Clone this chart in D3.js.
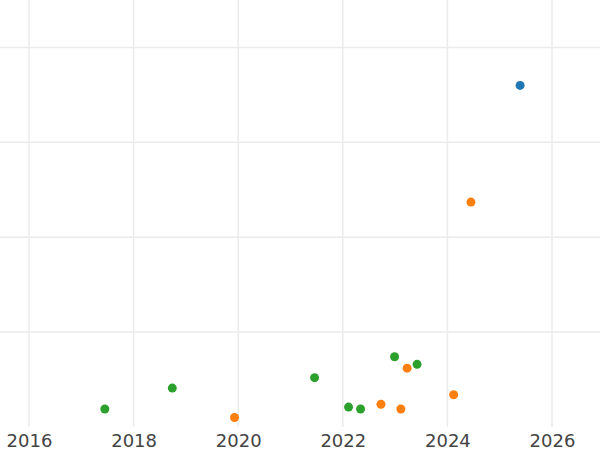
<!DOCTYPE html>
<html><head><meta charset="utf-8">
<script src="https://cdn.jsdelivr.net/npm/d3@7"></script>
<style>body{margin:0;background:#fff}svg{display:block}</style>
</head><body>
<svg id="c" width="600" height="450"></svg>
<script>
const blueX = [2025.39];
const blueY = [3.60];
const orangeX = [2019.93, 2022.73, 2023.11, 2023.23, 2024.12, 2024.45];
const orangeY = [0.10, 0.24, 0.19, 0.62, 0.34, 2.37];
const greenX = [2017.45, 2018.74, 2021.46, 2022.11, 2022.34, 2022.99, 2023.42];
const greenY = [0.19, 0.41, 0.52, 0.21, 0.19, 0.74, 0.66];
const xTicks = [2016, 2018, 2020, 2022, 2024, 2026];
const yTicks = [1, 2, 3, 4];

const series = [
  {x: blueX, y: blueY, color: "#1f77b4"},
  {x: orangeX, y: orangeY, color: "#ff7f0e"},
  {x: greenX, y: greenY, color: "#2ca02c"}
];

const svg = d3.select("#c");
const x = d3.scaleLinear().domain([2016, 2026]).range([29, 552]);
const y = d3.scaleLinear().domain([0, 4.5]).range([427, 0]);

// grid
svg.append("g").selectAll("line").data(xTicks).join("line")
  .attr("x1", d => x(d)).attr("x2", d => x(d)).attr("y1", 0).attr("y2", 427)
  .attr("stroke", "#ebebeb").attr("stroke-width", 1.5);
svg.append("g").selectAll("line").data(yTicks).join("line")
  .attr("x1", 0).attr("x2", 600).attr("y1", d => y(d)).attr("y2", d => y(d))
  .attr("stroke", "#ebebeb").attr("stroke-width", 1.5);

// x axis labels
const ax = svg.append("g").attr("transform", "translate(0,427)")
  .call(d3.axisBottom(x).tickValues(xTicks).tickFormat(d3.format("d")).tickSize(0).tickPadding(7));
ax.select(".domain").remove();
ax.selectAll("text").attr("font-family", "DejaVu Sans").attr("font-size", 18).attr("fill", "#444");

// points
series.forEach(s => {
  svg.append("g").selectAll("circle").data(s.x.map((v, i) => [v, s.y[i]])).join("circle")
    .attr("cx", d => x(d[0])).attr("cy", d => y(d[1])).attr("r", 4.5).attr("fill", s.color);
});
</script>
</body></html>
